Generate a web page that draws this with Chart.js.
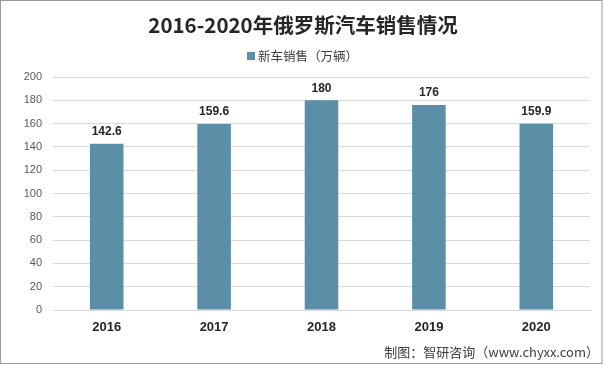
<!DOCTYPE html>
<html>
<head>
<meta charset="utf-8">
<script src="https://cdn.jsdelivr.net/npm/chart.js@4.4.1/dist/chart.umd.min.js"></script>
<style>
html,body{margin:0;padding:0;background:#fff;}
#wrap{width:606px;height:365px;position:relative;}
</style>
</head>
<body>
<div id="wrap"><canvas id="c" width="606" height="365"></canvas></div>
<script>
const categories = ['2016', '2017', '2018', '2019', '2020'];
const salesValues = [142.6, 159.6, 180, 176, 159.9];
const valueLabels = ['142.6', '159.6', '180', '176', '159.9'];
const seriesName = '新车销售（万辆）';
const chartTitle = '2016-2020年俄罗斯汽车销售情况';
const sourceText = '制图：智研咨询（www.chyxx.com）';
const barColor = '#5b8fa7';

const cjk = '"Noto Sans CJK SC", "Noto Sans", sans-serif';

const decor = {
  id: 'decor',
  afterDraw(chart) {
    const ctx = chart.ctx;
    ctx.save();
    // border
    ctx.strokeStyle = '#9a9a9a';
    ctx.lineWidth = 1;
    ctx.strokeRect(0.5, 0.5, 601.5, 363);
    // title
    ctx.fillStyle = '#262626';
    ctx.font = 'bold 20.5px ' + cjk;
    ctx.textAlign = 'center';
    ctx.textBaseline = 'middle';
    ctx.fillText(chartTitle, 303, 25);
    // legend
    ctx.font = '12.5px ' + cjk;
    ctx.textAlign = 'left';
    ctx.fillStyle = barColor;
    ctx.fillRect(247, 52, 8, 8);
    ctx.fillStyle = '#404040';
    ctx.fillText(seriesName, 258, 56);
    // data labels
    const meta = chart.getDatasetMeta(0);
    ctx.font = 'bold 12px "Liberation Sans", Arial, sans-serif';
    ctx.textAlign = 'center';
    ctx.fillStyle = '#262626';
    meta.data.forEach((bar, i) => {
      ctx.fillText(valueLabels[i], bar.x, bar.y - 12);
    });
    // source
    ctx.font = '13px ' + cjk;
    ctx.textAlign = 'right';
    ctx.fillStyle = '#404040';
    ctx.fillText(sourceText, 599, 352);
    ctx.restore();
  }
};

new Chart(document.getElementById('c'), {
  type: 'bar',
  data: {
    labels: categories,
    datasets: [{
      label: seriesName,
      data: salesValues,
      backgroundColor: barColor,
      borderWidth: 0,
      barPercentage: 0.625,
      categoryPercentage: 0.5
    }]
  },
  options: {
    responsive: false,
    animation: false,
    devicePixelRatio: 1,
    layout: { padding: { top: 77, right: 16, bottom: 25, left: 0 } },
    plugins: {
      legend: { display: false },
      title: { display: false },
      tooltip: { enabled: false }
    },
    scales: {
      x: {
        grid: { display: false, drawTicks: false },
        border: { color: '#d9d9d9', width: 1 },
        ticks: {
          color: '#262626',
          font: { family: '"Liberation Sans", Arial, sans-serif', size: 13, weight: 'bold' },
          padding: 10
        },
        afterFit(s) { s.height = 30; }
      },
      y: {
        min: 0,
        max: 200,
        ticks: {
          stepSize: 20,
          color: '#595959',
          font: { family: '"Liberation Sans", Arial, sans-serif', size: 11 },
          padding: 11
        },
        grid: { color: '#d9d9d9', drawTicks: false },
        border: { display: false },
        afterFit(s) { s.width = 53; }
      }
    }
  },
  plugins: [decor]
});
</script>
</body>
</html>
